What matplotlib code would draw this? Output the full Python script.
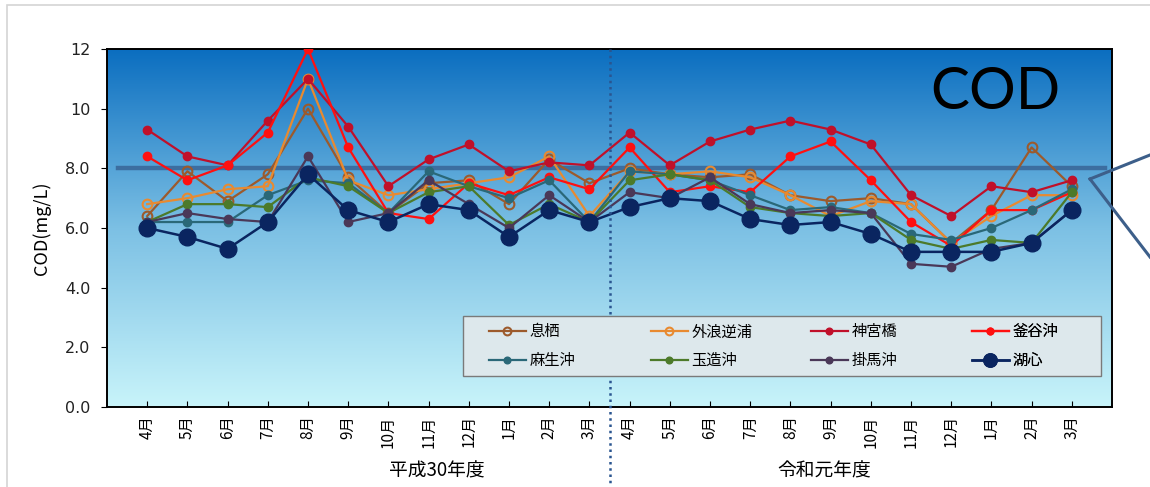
import numpy as np
import matplotlib; matplotlib.use("Agg"); import matplotlib.pyplot as plt
from matplotlib.lines import Line2D
from matplotlib.patches import Rectangle
from matplotlib.colors import LinearSegmentedColormap
import matplotlib.transforms as mtrans

plt.rcParams['font.family'] = ['Noto Sans CJK JP', 'DejaVu Sans']

# 月 (平成30年度 4月 ～ 令和元年度 3月)
MESES = ["4月","5月","6月","7月","8月","9月","10月","11月","12月","1月","2月","3月"] * 2
ANOS = ["平成30年度", "令和元年度"]
NOMES = ["息栖","外浪逆浦","神宮橋","釜谷沖","麻生沖","玉造沖","掛馬沖","湖心"]

# COD (mg/L)
ikisu    = [6.4,7.9,6.9,7.8,10.0,7.7,6.5,7.5,7.6,6.8,8.3,7.5, 8.0,7.8,7.7,7.8,7.1,6.9,7.0,6.8,5.5,6.6,8.7,7.4]
sotonasa = [6.8,7.0,7.3,7.4,11.0,7.6,7.1,7.3,7.5,7.7,8.4,6.4, 7.9,7.8,7.9,7.7,7.1,6.4,6.9,6.8,5.5,6.4,7.1,7.1]
jingu    = [9.3,8.4,8.1,9.6,11.0,9.4,7.4,8.3,8.8,7.9,8.2,8.1, 9.2,8.1,8.9,9.3,9.6,9.3,8.8,7.1,6.4,7.4,7.2,7.6]
kamaya   = [8.4,7.6,8.1,9.2,12.0,8.7,6.5,6.3,7.5,7.1,7.7,7.3, 8.7,7.2,7.4,7.2,8.4,8.9,7.6,6.2,5.4,6.6,6.6,7.2]
aso      = [6.2,6.2,6.2,7.1,7.6,7.5,6.5,7.9,7.4,7.0,7.6,6.2, 7.9,7.8,7.6,7.1,6.6,6.7,6.5,5.8,5.6,6.0,6.6,7.3]
tamatsukuri = [6.2,6.8,6.8,6.7,7.7,7.4,6.5,7.2,7.4,6.1,6.8,6.2, 7.6,7.8,7.6,6.7,6.5,6.4,6.5,5.6,5.3,5.6,5.5,7.2]
kakeuma  = [6.2,6.5,6.3,6.2,8.4,6.2,6.5,7.6,6.8,6.0,7.1,6.2, 7.2,7.0,7.7,6.8,6.5,6.6,6.5,4.8,4.7,5.3,5.5,6.6]
koshin   = [6.0,5.7,5.3,6.2,7.8,6.6,6.2,6.8,6.6,5.7,6.6,6.2, 6.7,7.0,6.9,6.3,6.1,6.2,5.8,5.2,5.2,5.2,5.5,6.6]
KIJUN = 8.0  # 環境基準

SERIES = [ikisu, sotonasa, jingu, kamaya, aso, tamatsukuri, kakeuma, koshin]
CORES = ["#9c5a2c","#e88a30","#c0102a","#ff1010","#2a6878","#4c7a2a","#4a3858","#0a2560"]

fig = plt.figure(figsize=(11.5, 4.87), dpi=100)
fig.patches.append(Rectangle((7/1150, -0.1), 1.2, 1 - 5/487 + 0.1, transform=fig.transFigure,
                             fill=False, ec="#d4d4d4", lw=1.2))
ax = fig.add_axes([107/1150, 1 - 407/487, 1005/1150, 358/487])

# fundo em degrade
grad = LinearSegmentedColormap.from_list("bg", ["#c8f4fa", "#7cc0e4", "#0b6ec0"])
ax.imshow(np.linspace(0, 1, 256).reshape(-1, 1), cmap=grad, origin="lower",
          extent=[-1, 24, 0, 12], aspect="auto", zorder=0)

x = np.arange(len(MESES))
hs = []
for i, (nm, ys, c) in enumerate(zip(NOMES, SERIES, CORES)):
    if i < 2:
        h, = ax.plot(x, ys, color=c, lw=1.6, marker="o", ms=7, mfc="none", mec=c, mew=1.5, label=nm, zorder=3 + i)
    elif nm == "湖心":
        h, = ax.plot(x, ys, color=c, lw=1.8, marker="o", ms=12, mfc=c, mec=c, label=nm, zorder=3 + i)
    else:
        h, = ax.plot(x, ys, color=c, lw=1.6, marker="o", ms=6, mfc=c, mec=c, label=nm, zorder=3 + i)
    hs.append(h)

# linha do padrao (atras das series)
ax.axhline(KIJUN, xmin=0.011, xmax=0.993, color="#3a689a", lw=3.2, alpha=0.9, zorder=2.5)

# divisao entre anos
tr = mtrans.blended_transform_factory(ax.transData, ax.transAxes)
ax.add_line(Line2D([11.5, 11.5], [1, -0.23], transform=tr, color="#2a5590", lw=1.8,
                   ls=(0, (1, 1.5)), clip_on=False, zorder=11))

ax.set_xlim(-1, 24); ax.set_ylim(0, 12)
ax.set_xticks(x); ax.set_xticklabels(MESES, rotation=90, fontsize=11, va="top")
ax.set_yticks([0, 2, 4, 6, 8, 10, 12])
ax.set_yticklabels(["0.0","2.0","4.0","6.0","8.0","10","12"], fontsize=11.5, family="DejaVu Sans", color="#222222")
ax.tick_params(axis="x", direction="in", length=4, pad=6)
ax.tick_params(axis="y", direction="out", length=4, pad=8)
for s in ax.spines.values(): s.set_linewidth(1.4)
ax.set_ylabel("COD(mg/L)", fontsize=13, labelpad=10)

ax.text(7.2, -0.178, ANOS[0], transform=tr, ha="center", va="center", fontsize=13.5)
ax.text(16.85, -0.178, ANOS[1], transform=tr, ha="center", va="center", fontsize=13.5)

ax.text(21.1, 10.55, "COD", fontsize=42, ha="center", va="center", color="black",
        family=["Lato", "DejaVu Sans"], zorder=12)

# legenda: moldura + 4 colunas de largura igual
ax.add_patch(Rectangle((0.354, 0.087), 0.635, 0.167, transform=ax.transAxes, fc="#dde8ec",
                       ec="#7a7a7a", lw=1, zorder=20))
colx = [(v - 107) / 1005 for v in (489, 651, 811, 972)]
for j in range(4):
    lg = ax.legend([hs[j], hs[j + 4]], [NOMES[j], NOMES[j + 4]], loc="center left",
                   bbox_to_anchor=(colx[j], 0.170), frameon=False, fontsize=11, borderpad=0,
                   borderaxespad=0, handlelength=2.4, handletextpad=0.25, labelspacing=0.75,
                   markerscale=0.8)
    lg.set_zorder(21)
    ax.add_artist(lg)

# seta apontando para o padrao
fig.add_artist(Line2D([1090/1150, 1150/1150], [1 - 179/487, 1 - 155/487], color="#3d5f8a", lw=2.2))
fig.add_artist(Line2D([1090/1150, 1150/1150], [1 - 179/487, 1 - 257/487], color="#3d5f8a", lw=2.2))

fig.savefig("out.png", dpi=100)
